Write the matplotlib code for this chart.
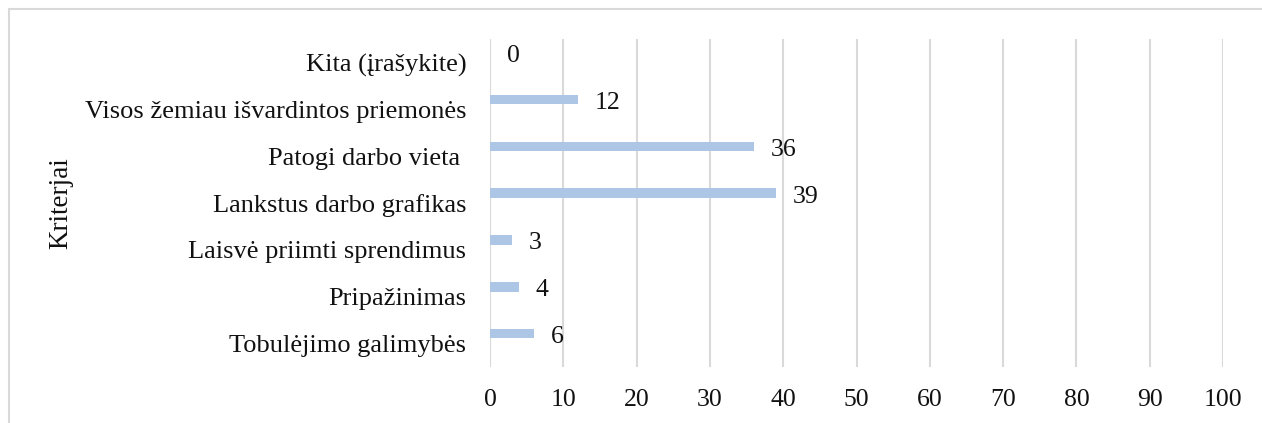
import matplotlib
matplotlib.use("Agg")
import matplotlib.pyplot as plt
from matplotlib.patches import Rectangle

categories = ["Tobulėjimo galimybės", "Pripažinimas", "Laisvė priimti sprendimus",
              "Lankstus darbo grafikas", "Patogi darbo vieta ",
              "Visos žemiau išvardintos priemonės", "Kita (įrašykite)"]
values = [6, 4, 3, 39, 36, 12, 0]
xticks = [0, 10, 20, 30, 40, 50, 60, 70, 80, 90, 100]

plt.rcParams['font.family'] = ['Liberation Serif', 'DejaVu Serif']

W, H = 1262, 423
fig = plt.figure(figsize=(W / 100, H / 100), dpi=100)
ax_l, ax_r, ax_t, ax_b = 490, 1223, 39, 367
ax = fig.add_axes([ax_l / W, (H - ax_b) / H, (ax_r - ax_l) / W, (ax_b - ax_t) / H])

ypos = list(range(len(categories)))
bar_pos = [y + 0.21 for y in ypos]
ax.barh(bar_pos, values, height=0.2, color="#adc6e6", zorder=3)
for y, v in zip(bar_pos, values):
    ax.annotate(str(v), (v, y), xytext=(12, -2.5), textcoords="offset points",
                va="center", ha="left", fontsize=18.5, color="#111111")

ax.set_xlim(0, 100)
ax.set_ylim(-0.5, len(categories) - 0.5)
ax.set_xticks(xticks)
ax.set_yticks(ypos)
ax.set_yticklabels(categories)
ax.tick_params(axis="y", length=0, labelsize=19, colors="#111111", pad=17)
ax.tick_params(axis="x", length=0, labelsize=18.5, colors="#111111", pad=16)
ax.grid(axis="x", color="#d9d9d9", linewidth=1.5, zorder=0)
for s in ax.spines.values():
    s.set_visible(False)
ax.set_ylabel("Kriterjai", fontsize=19.5, color="#111111")
ax.yaxis.set_label_coords(-(ax_l - 73) / (ax_r - ax_l), 0.5)

fig.patches.append(Rectangle((9 / W, -0.1), 1.2, (H - 9) / H + 0.1,
                             transform=fig.transFigure, fill=False,
                             edgecolor="#d9d9d9", linewidth=1.5))

fig.savefig("out.png", dpi=100)
